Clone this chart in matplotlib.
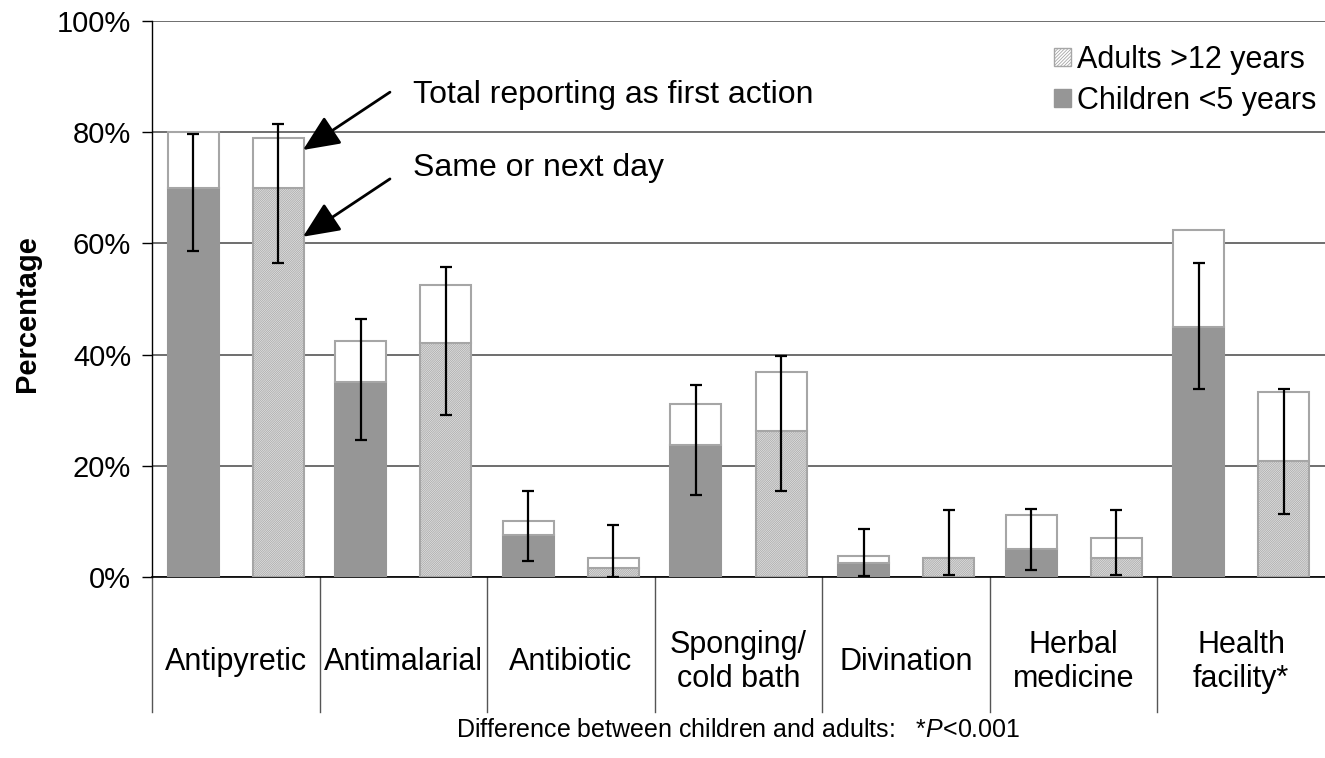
import numpy as np
import matplotlib
matplotlib.use('Agg')
import matplotlib.pyplot as plt
from matplotlib.patches import Patch
import matplotlib.transforms as mtransforms

plt.rcParams['font.family'] = ['Liberation Sans', 'DejaVu Sans']
plt.rcParams['mathtext.fontset'] = 'custom'
plt.rcParams['mathtext.rm'] = 'Liberation Sans'
plt.rcParams['mathtext.it'] = 'Liberation Sans:italic'
plt.rcParams['hatch.linewidth'] = 0.6

categories = ['Antipyretic', 'Antimalarial', 'Antibiotic', 'Sponging/\ncold bath',
              'Divination', 'Herbal\nmedicine', 'Health\nfacility*']

# children <5 years
child_total = [80.0, 42.5, 10.0, 31.1, 3.7, 11.2, 62.5]
child_same = [70.0, 35.0, 7.6, 23.7, 2.6, 5.0, 45.0]
child_ci_lo = [58.6, 24.6, 2.8, 14.8, 0.2, 1.3, 33.8]
child_ci_hi = [79.7, 46.4, 15.5, 34.5, 8.6, 12.2, 56.5]

# adults >12 years
adult_total = [78.9, 52.6, 3.5, 36.9, 3.4, 7.0, 33.2]
adult_same = [70.0, 42.0, 1.6, 26.3, 3.4, 3.4, 20.9]
adult_ci_lo = [56.5, 29.1, 0.0, 15.5, 0.4, 0.4, 11.3]
adult_ci_hi = [81.5, 55.8, 9.3, 39.7, 12.0, 12.0, 33.8]

yticks = [0, 20, 40, 60, 80, 100]

edge = '#a6a6a6'
dark = '#969696'

fig = plt.figure(figsize=(13.25, 7.58), dpi=100)
ax = fig.add_axes([152/1325, 1-577/758, 1173/1325, 556/758])

x = np.arange(len(categories))
w = 0.304
off = 0.254

def draw_group(xpos, same, total, lo, hi, hatched):
    same = np.array(same)
    total = np.array(total)
    if hatched:
        ax.bar(xpos, same, w, facecolor='white', edgecolor=edge, hatch='/' * 18,
               linewidth=1.5, zorder=3)
    else:
        ax.bar(xpos, same, w, facecolor=dark, edgecolor=dark, linewidth=1.5, zorder=3)
    ax.bar(xpos, total - same, w, bottom=same, facecolor='white', edgecolor=edge,
           linewidth=1.5, zorder=3)
    lo = np.array(lo)
    hi = np.array(hi)
    ax.errorbar(xpos, lo, yerr=[np.zeros_like(lo), hi - lo], fmt='none',
                ecolor='black', elinewidth=1.6, capsize=4, capthick=1.6, zorder=4)

draw_group(x - off, child_same, child_total, child_ci_lo, child_ci_hi, False)
draw_group(x + off, adult_same, adult_total, adult_ci_lo, adult_ci_hi, True)

ax.set_xlim(-0.5, len(categories) - 0.5)
ax.set_ylim(0, 100)
ax.set_yticks(yticks)
ax.set_yticklabels([f'{v}%' for v in yticks], fontsize=21)
ax.set_xticks([])
ax.yaxis.grid(True, color='#555555', linewidth=1.2, zorder=0)
ax.set_axisbelow(True)
ax.tick_params(axis='y', direction='out', length=7, width=1, pad=8)
for s in ['top', 'right']:
    ax.spines[s].set_visible(False)
ax.spines['left'].set_linewidth(1)
ax.spines['bottom'].set_linewidth(1.2)

# category separators below the axis
trans = mtransforms.blended_transform_factory(ax.transData, ax.transAxes)
for b in np.arange(-0.5, len(categories) - 0.5):
    ax.plot([b, b], [0, -0.243], transform=trans, color='#555555', lw=1, clip_on=False)
for i, c in enumerate(categories):
    ax.text(i, -0.153, c, transform=trans, ha='center', va='center', fontsize=22,
            linespacing=1.2)

# annotations
ax.annotate('', xy=(0.401, 76.8), xytext=(0.92, 87.2),
            arrowprops=dict(arrowstyle='-|>,head_length=0.9,head_width=0.4',
                            mutation_scale=25, lw=2, color='black',
                            shrinkA=0, shrinkB=0))
ax.annotate('', xy=(0.401, 61.2), xytext=(0.92, 71.6),
            arrowprops=dict(arrowstyle='-|>,head_length=0.9,head_width=0.4',
                            mutation_scale=25, lw=2, color='black',
                            shrinkA=0, shrinkB=0))
ax.text(1.057, 86.7, 'Total reporting as first action', fontsize=23, va='center')
ax.text(1.057, 73.6, 'Same or next day', fontsize=23, va='center')

handles = [Patch(facecolor='white', edgecolor=edge, hatch='/' * 10, label='Adults >12 years'),
           Patch(facecolor=dark, edgecolor=dark, label='Children <5 years')]
ax.legend(handles=handles, loc='upper right', bbox_to_anchor=(1.008, 0.99), frameon=False,
          fontsize=22, handlelength=0.55, handleheight=0.55, handletextpad=0.2,
          labelspacing=0.35, borderaxespad=0.2)

fig.text(27/1325, 1-314/758, 'Percentage', rotation=90, fontsize=21, fontweight='bold',
         ha='center', va='center')
fig.text(738/1325, 1-730/758, 'Difference between children and adults:   *$\\it{P}$<0.001',
         fontsize=18, ha='center', va='center')

fig.savefig('out.png', dpi=100)
